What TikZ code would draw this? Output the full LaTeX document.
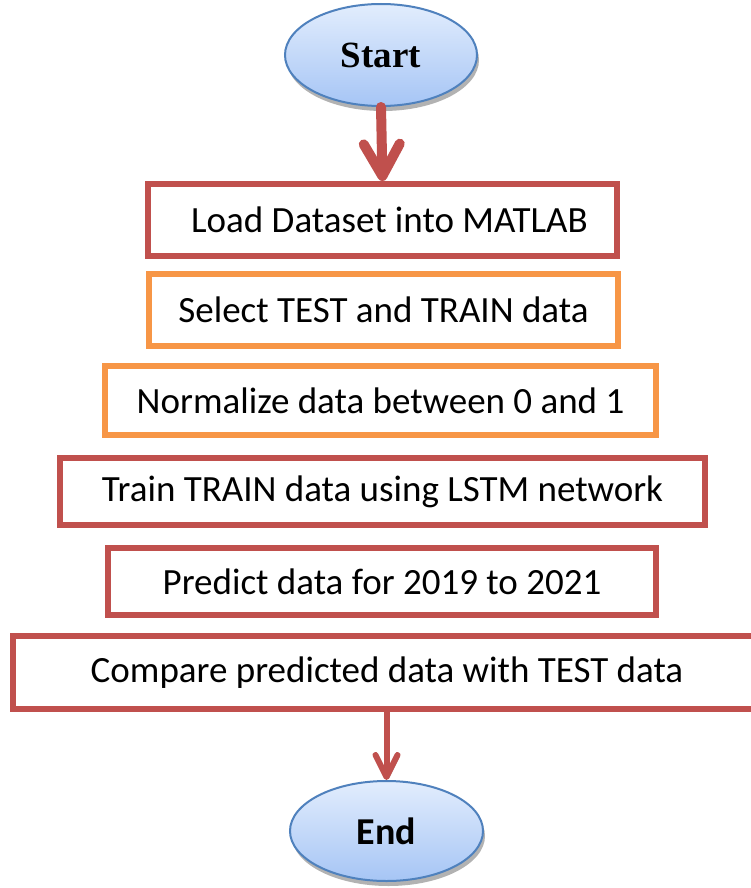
\documentclass[tikz,border=0pt]{standalone}
\usepackage{fontspec}
\setmainfont{Carlito}
\newfontfamily\serifbold{Liberation Serif}
\usetikzlibrary{arrows.meta,shadows,shapes.geometric}

\definecolor{boxred}{HTML}{C0504D}
\definecolor{boxorange}{HTML}{F79646}
\definecolor{ovalline}{HTML}{4F81BD}
\definecolor{ovaltop}{HTML}{E2EDFD}
\definecolor{ovalbottom}{HTML}{A6C5F5}

\tikzset{
  x=1pt, y=-1pt,
  stepbox/.style={draw, line width=6pt, fill=white, rectangle, inner sep=0pt,
    font=\fontsize{37}{40}\selectfont},
  redbox/.style={stepbox, draw=boxred},
  orangebox/.style={stepbox, draw=boxorange},
  oval/.style={ellipse, draw=ovalline, line width=2pt, inner sep=0pt,
    top color=ovaltop, bottom color=ovalbottom,
    drop shadow={shadow xshift=2pt, shadow yshift=-5pt, fill=black!50, opacity=0.6}},
  flow/.style={draw=boxred, line cap=round,
    preaction={draw=black!35, transform canvas={shift={(2pt,-2pt)}}}},
}

\begin{document}
\begin{tikzpicture}
\useasboundingbox (0,0) rectangle (751,888);
\fill[white] (0,0) rectangle (751,888);

\node[oval, minimum width=192pt, minimum height=102pt,
      font=\serifbold\bfseries\fontsize{37}{40}\selectfont] (start) at (381,55) {Start};

\node[redbox, minimum width=469pt, minimum height=72pt] (load) at (382.5,220)
  {\hspace*{14pt}Load Dataset into MATLAB};
\node[orangebox, minimum width=469pt, minimum height=72pt] (select) at (383.5,310)
  {Select TEST and TRAIN data};
\node[orangebox, minimum width=551pt, minimum height=69pt] (norm) at (380.5,400.5)
  {Normalize data between 0 and 1};
\node[redbox, minimum width=645pt, minimum height=67pt] (train) at (382.5,491.5)
  {Train TRAIN data using LSTM network};
\node[redbox, minimum width=548pt, minimum height=67pt] (predict) at (382,581.5)
  {Predict data for 2019 to 2021};
\node[redbox, minimum width=748pt, minimum height=73pt] (compare) at (387,672.5)
  {Compare predicted data with TEST data};

\node[oval, minimum width=193pt, minimum height=100pt,
      font=\bfseries\fontsize{38}{42}\selectfont] (end) at (386.5,831) {End};

\draw[flow, line width=10pt,
  -{Straight Barb[length=32pt, width=36pt, line width=10pt, round]}]
  (start.south) -- (load.north);
\draw[flow, line width=6pt,
  -{Straight Barb[length=22pt, width=22pt, line width=6pt, round]}]
  (compare.south -| end.north) -- (end.north);
\end{tikzpicture}
\end{document}
